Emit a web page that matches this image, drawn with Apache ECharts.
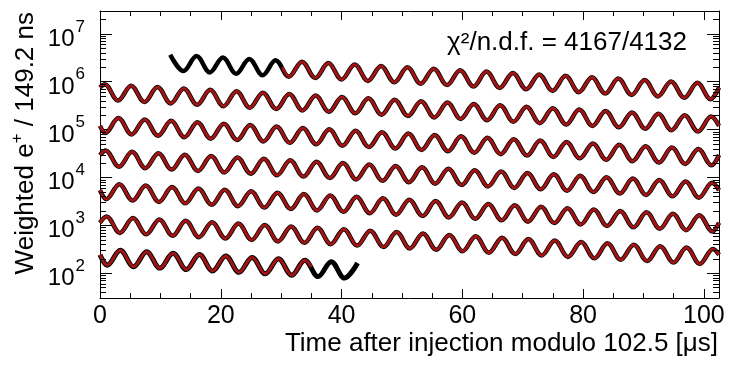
<!DOCTYPE html>
<html>
<head>
<meta charset="utf-8">
<script src="https://cdn.jsdelivr.net/npm/echarts@6/dist/echarts.min.js"></script>
<style>html,body{margin:0;padding:0;background:#fff}#c{width:729px;height:367px}</style>
</head>
<body>
<div id="c"></div>
<script>
const FONT = '"Liberation Sans", Arial, sans-serif';

// tick labels
const xTickLabels = [0, 20, 40, 60, 80, 100];
const yTickExponents = [2, 3, 4, 5, 6, 7];
const yMinorTicks = [40, 50, 60, 70, 80, 90,
  200, 300, 400, 500, 600, 700, 800, 900,
  2e3, 3e3, 4e3, 5e3, 6e3, 7e3, 8e3, 9e3,
  2e4, 3e4, 4e4, 5e4, 6e4, 7e4, 8e4, 9e4,
  2e5, 3e5, 4e5, 5e5, 6e5, 7e5, 8e5, 9e5,
  2e6, 3e6, 4e6, 5e6, 6e6, 7e6, 8e6, 9e6, 2e7];

// wrapped time spectrum: extrema (and row edges), per 102.5 us row
const row1Time = [11.63, 13.81, 16.00, 18.18, 20.36, 22.54, 24.73, 26.91, 29.09, 31.27, 33.46, 35.64, 37.82, 40.00, 42.19, 44.37, 46.55, 48.73, 50.92, 53.10, 55.28, 57.46, 59.65, 61.83, 64.01, 66.19, 68.38, 70.56, 72.74, 74.92, 77.11, 79.29, 81.47, 83.65, 85.84, 88.02, 90.20, 92.38, 94.57, 96.75, 98.93, 101.11, 102.5];
const row1Count = [3.665e6, 1.667e6, 3.425e6, 1.558e6, 3.200e6, 1.456e6, 2.991e6, 1.361e6, 2.795e6, 1.272e6, 2.612e6, 1.188e6, 2.441e6, 1.110e6, 2.281e6, 1.038e6, 2.131e6, 9.696e5, 1.992e6, 9.061e5, 1.861e6, 8.467e5, 1.739e6, 7.912e5, 1.625e6, 7.394e5, 1.519e6, 6.910e5, 1.419e6, 6.456e5, 1.326e6, 6.034e5, 1.239e6, 5.638e5, 1.158e6, 5.269e5, 1.082e6, 4.923e5, 1.011e6, 4.601e5, 9.450e5, 4.299e5, 7.55e5];

const row2Time = [0, 0.80, 2.98, 5.16, 7.34, 9.53, 11.71, 13.89, 16.07, 18.26, 20.44, 22.62, 24.80, 26.99, 29.17, 31.35, 33.53, 35.72, 37.90, 40.08, 42.26, 44.45, 46.63, 48.81, 50.99, 53.18, 55.36, 57.54, 59.72, 61.91, 64.09, 66.27, 68.45, 70.64, 72.82, 75.00, 77.18, 79.37, 81.55, 83.73, 85.91, 88.10, 90.28, 92.46, 94.64, 96.83, 99.01, 101.19, 102.5];
const row2Count = [7.55e5, 8.831e5, 4.018e5, 8.252e5, 3.754e5, 7.711e5, 3.508e5, 7.206e5, 3.279e5, 6.734e5, 3.064e5, 6.293e5, 2.863e5, 5.880e5, 2.675e5, 5.495e5, 2.500e5, 5.135e5, 2.336e5, 4.798e5, 2.183e5, 4.484e5, 2.040e5, 4.190e5, 1.907e5, 3.916e5, 1.781e5, 3.659e5, 1.665e5, 3.419e5, 1.556e5, 3.195e5, 1.454e5, 2.986e5, 1.358e5, 2.790e5, 1.269e5, 2.607e5, 1.186e5, 2.436e5, 1.108e5, 2.277e5, 1.036e5, 2.128e5, 9.68e4, 1.988e5, 9.05e4, 1.858e5, 1.19e5];

const row3Time = [0, 0.87, 3.06, 5.24, 7.42, 9.60, 11.79, 13.97, 16.15, 18.33, 20.52, 22.70, 24.88, 27.06, 29.25, 31.43, 33.61, 35.79, 37.98, 40.16, 42.34, 44.52, 46.71, 48.89, 51.07, 53.25, 55.44, 57.62, 59.80, 61.98, 64.17, 66.35, 68.53, 70.71, 72.90, 75.08, 77.26, 79.44, 81.63, 83.81, 85.99, 88.17, 90.36, 92.54, 94.72, 96.90, 99.09, 101.27, 102.5];
const row3Count = [1.19e5, 8.44e4, 1.733e5, 7.886e4, 1.620e5, 7.370e4, 1.514e5, 6.887e4, 1.414e5, 6.435e4, 1.322e5, 6.014e4, 1.235e5, 5.619e4, 1.154e5, 5.252e4, 1.078e5, 4.907e4, 1.008e5, 4.586e4, 9.419e4, 4.285e4, 8.802e4, 4.005e4, 8.225e4, 3.742e4, 7.686e4, 3.496e4, 7.182e4, 3.268e4, 6.712e4, 3.054e4, 6.272e4, 2.854e4, 5.861e4, 2.666e4, 5.477e4, 2.492e4, 5.118e4, 2.328e4, 4.782e4, 2.176e4, 4.469e4, 2.033e4, 4.183e4, 1.904e4, 3.909e4, 1.778e4, 2.92e4];

const row4Time = [0, 0.95, 3.13, 5.32, 7.50, 9.68, 11.86, 14.05, 16.23, 18.41, 20.59, 22.78, 24.96, 27.14, 29.32, 31.51, 33.69, 35.87, 38.05, 40.24, 42.42, 44.60, 46.78, 48.97, 51.15, 53.33, 55.51, 57.70, 59.88, 62.06, 64.24, 66.43, 68.61, 70.79, 72.97, 75.16, 77.34, 79.52, 81.70, 83.89, 86.07, 88.25, 90.43, 92.62, 94.80, 96.98, 99.16, 101.35, 102.5];
const row4Count = [2.92e4, 3.653e4, 1.661e4, 3.414e4, 1.553e4, 3.190e4, 1.451e4, 2.981e4, 1.356e4, 2.786e4, 1.268e4, 2.603e4, 1.184e4, 2.433e4, 1.106e4, 2.273e4, 1.035e4, 2.124e4, 9.664e3, 1.985e4, 9.031e3, 1.855e4, 8.439e3, 1.733e4, 7.886e3, 1.620e4, 7.370e3, 1.514e4, 6.887e3, 1.414e4, 6.435e3, 1.322e4, 6.014e3, 1.235e4, 5.619e3, 1.154e4, 5.252e3, 1.078e4, 4.907e3, 1.008e4, 4.586e3, 9.419e3, 4.285e3, 8.802e3, 4.005e3, 8.225e3, 3.742e3, 7.686e3, 5.37e3];

const row5Time = [0, 1.03, 3.21, 5.39, 7.58, 9.76, 11.94, 14.12, 16.31, 18.49, 20.67, 22.85, 25.04, 27.22, 29.40, 31.58, 33.77, 35.95, 38.13, 40.31, 42.50, 44.68, 46.86, 49.04, 51.23, 53.41, 55.59, 57.77, 59.96, 62.14, 64.32, 66.50, 68.69, 70.87, 73.05, 75.23, 77.42, 79.60, 81.78, 83.96, 86.15, 88.33, 90.51, 92.69, 94.88, 97.06, 99.24, 101.42, 102.5];
const row5Count = [5.37e3, 3.496e3, 7.182e3, 3.268e3, 6.712e3, 3.054e3, 6.272e3, 2.854e3, 5.861e3, 2.666e3, 5.477e3, 2.492e3, 5.118e3, 2.328e3, 4.782e3, 2.176e3, 4.469e3, 2.033e3, 4.176e3, 1.900e3, 3.902e3, 1.775e3, 3.647e3, 1.659e3, 3.408e3, 1.550e3, 3.184e3, 1.449e3, 2.976e3, 1.354e3, 2.781e3, 1.266e3, 2.599e3, 1.182e3, 2.429e3, 1.104e3, 2.270e3, 1.033e3, 2.120e3, 964.8, 1.982e3, 901.6, 1.852e3, 842.5, 1.730e3, 787.2, 1.617e3, 735.7, 1.12e3];

const row6Time = [0, 1.11, 3.29, 5.47, 7.65, 9.84, 12.02, 14.20, 16.38, 18.57, 20.75, 22.93, 25.11, 27.30, 29.48, 31.66, 33.84, 36.03, 38.21, 40.39, 42.57, 44.76, 46.94, 49.12, 51.30, 53.49, 55.67, 57.85, 60.03, 62.22, 64.40, 66.58, 68.76, 70.95, 73.13, 75.31, 77.49, 79.68, 81.86, 84.04, 86.22, 88.41, 90.59, 92.77, 94.95, 97.14, 99.32, 101.50, 102.5];
const row6Count = [1.12e3, 1511, 687.5, 1412, 642.4, 1319, 600.4, 1233, 561.0, 1152, 524.3, 1077, 489.8, 1006, 457.8, 940.3, 427.8, 878.7, 399.8, 821.1, 373.5, 767.2, 349.0, 717.0, 326.3, 670.0, 304.9, 626.2, 284.9, 585.1, 266.2, 546.8, 248.8, 510.9, 232.4, 477.4, 217.2, 446.2, 203.0, 416.9, 189.7, 389.6, 177.2, 364.1, 165.6, 340.2, 154.8, 317.9, 241];

const row7Time = [0, 1.18, 3.37, 5.55, 7.73, 9.91, 12.10, 14.28, 16.46, 18.64, 20.83, 23.01, 25.19, 27.37, 29.56, 31.74, 33.92, 36.10, 38.29, 40.47, 42.65];
const row7Count = [241, 144.6, 297.1, 135.2, 277.7, 126.4, 259.5, 118.0, 242.5, 110.3, 226.6, 103.1, 211.7, 96.3, 197.9, 90.0, 184.9, 84.1, 172.8, 78.6, 161.4];

// fit range edges (fit starts 30.2 us in row 1, ends in row 7)
const fitStartRow1 = [30.2, 2.00e6];
const fitEndRow7 = [35.0, 134];

const rowTimes = [row1Time, row2Time, row3Time, row4Time, row5Time, row6Time, row7Time];
const rowCounts = [row1Count, row2Count, row3Count, row4Count, row5Count, row6Count, row7Count];

const dataLines = rowTimes.map((ts, i) => ts.map((t, k) => [t, rowCounts[i][k]]));
const fitLines = dataLines.map((d, i) => {
  if (i === 0) return [fitStartRow1].concat(d.filter(p => p[0] > fitStartRow1[0]));
  if (i === 6) return d.filter(p => p[0] < fitEndRow7[0]).concat([fitEndRow7]);
  return d;
});

const series = [];
dataLines.forEach((d, i) => series.push({
  type: 'line', data: d, symbol: 'none', smooth: 0.36, smoothMonotone: 'x',
  lineStyle: { color: '#000', width: i === 6 ? 5 : 4.5 }, z: 2, silent: true, animation: false
}));
fitLines.forEach(d => series.push({
  type: 'line', data: d, symbol: 'none', smooth: 0.36, smoothMonotone: 'x',
  lineStyle: { color: '#a01414', width: 3 }, z: 3, silent: true, animation: false
}));
series.push({
  type: 'custom', coordinateSystem: 'cartesian2d', xAxisIndex: 0, yAxisIndex: 0,
  data: yMinorTicks.map(v => [0, v]), silent: true, clip: false, z: 5, animation: false,
  renderItem: (params, api) => {
    const v = api.value(1);
    const l = api.coord([0, v]);
    const r = api.coord([102.5, v]);
    const y = Math.round(l[1]) + 0.5;
    return { type: 'group', children: [
      { type: 'line', shape: { x1: l[0], y1: y, x2: l[0] + 6, y2: y }, style: { stroke: '#000', lineWidth: 1 } },
      { type: 'line', shape: { x1: r[0] - 6, y1: y, x2: r[0], y2: y }, style: { stroke: '#000', lineWidth: 1 } }
    ] };
  }
});

function xAxisCfg(pos, showLabel) {
  return {
    type: 'value', min: 0, max: 102.5, interval: 20, position: pos,
    axisLine: { show: true, onZero: false, lineStyle: { color: '#000', width: 1 } },
    axisTick: { show: true, inside: true, length: 9, lineStyle: { color: '#000', width: 1 } },
    minorTick: { show: true, splitNumber: 4, length: 5, lineStyle: { color: '#000', width: 1 } },
    splitLine: { show: false }, minorSplitLine: { show: false },
    axisLabel: {
      show: showLabel, margin: 6, fontSize: 25, color: '#000', fontFamily: FONT,
      formatter: v => (xTickLabels.indexOf(v) >= 0 ? String(v) : '')
    }
  };
}
function yAxisCfg(pos, showLabel) {
  return {
    type: 'log', logBase: 10, min: 30, max: 3e7, position: pos,
    axisLine: { show: true, onZero: false, lineStyle: { color: '#000', width: 1 } },
    axisTick: { show: true, inside: true, length: 12, lineStyle: { color: '#000', width: 1 } },
    minorTick: { show: false }, splitLine: { show: false }, minorSplitLine: { show: false },
    axisLabel: {
      show: showLabel, margin: 15,
      formatter: v => {
        const e = Math.round(Math.log10(v));
        if (yTickExponents.indexOf(e) < 0 || Math.abs(v / Math.pow(10, e) - 1) > 1e-6) return '';
        return '{b|10}{s|' + e + '}';
      },
      rich: {
        b: { fontSize: 24, fontFamily: FONT, color: '#000', padding: [11, 1, 0, 0], verticalAlign: 'bottom' },
        s: { fontSize: 17, fontFamily: FONT, color: '#000', padding: [2, 0, 0, 0], verticalAlign: 'top' }
      }
    }
  };
}

const chart = echarts.init(document.getElementById('c'), null, { renderer: 'canvas' });
chart.setOption({
  animation: false,
  backgroundColor: '#fff',
  grid: { left: 100, right: 10, top: 11, bottom: 69, containLabel: false, outerBoundsMode: 'none' },
  xAxis: [xAxisCfg('bottom', true), xAxisCfg('top', false)],
  yAxis: [yAxisCfg('left', true), yAxisCfg('right', false)],
  series: series,
  graphic: [
    { type: 'text', x: 24, y: 12, rotation: Math.PI / 2, silent: true,
      style: { text: '{a|Weighted e}{p|+}{a| / 149.2 ns}', fill: '#000', align: 'right', verticalAlign: 'middle',
        rich: {
          a: { fontSize: 26, fontFamily: FONT, fill: '#000', padding: [4, 0, 0, 0], verticalAlign: 'bottom' },
          p: { fontSize: 17, fontFamily: FONT, fill: '#000', verticalAlign: 'top' }
        } } },
    { type: 'text', x: 718, y: 344, silent: true,
      style: { text: 'Time after injection modulo 102.5 [\u03BCs]', fill: '#000', font: '26px ' + FONT, align: 'right', verticalAlign: 'middle' } },
    { type: 'text', x: 687, y: 43, silent: true,
      style: { text: '\u03C7\u00B2/n.d.f. = 4167/4132', fill: '#000', font: '26px ' + FONT, align: 'right', verticalAlign: 'middle' } }
  ]
});
</script>
</body>
</html>
